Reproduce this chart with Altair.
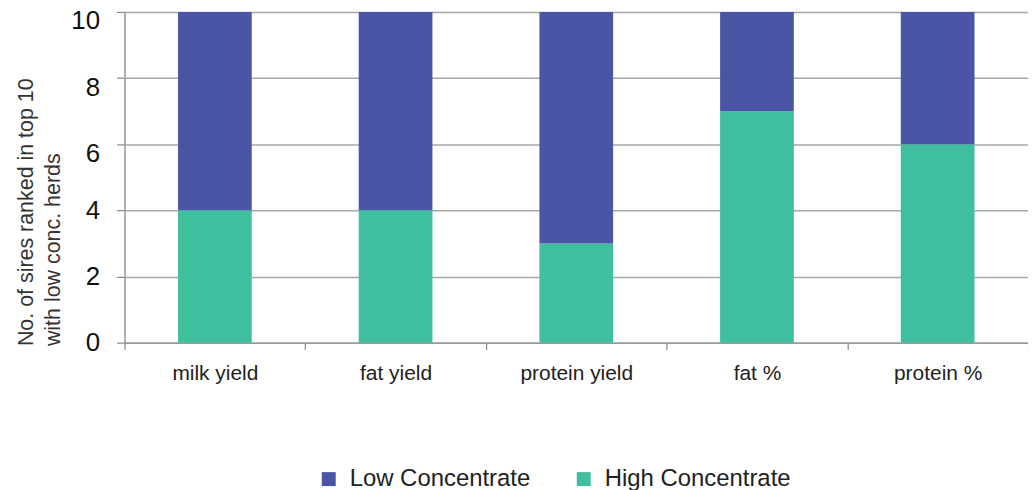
import altair as alt
import pandas as pd

categories = ["milk yield", "fat yield", "protein yield", "fat %", "protein %"]
low_conc = [6, 6, 7, 3, 4]
high_conc = [4, 4, 3, 7, 6]
series = ["Low Concentrate", "High Concentrate"]
colors = ["#4B55A5", "#40BEA0"]
y_ticks = [0, 2, 4, 6, 8, 10]

rows = []
for c, lo, hi in zip(categories, low_conc, high_conc):
    rows.append({"trait": c, "series": series[1], "value": hi, "ord": 0})
    rows.append({"trait": c, "series": series[0], "value": lo, "ord": 1})
df = pd.DataFrame(rows)

FONT = "Liberation Sans"

chart = alt.Chart(df).mark_bar(size=74).encode(
    x=alt.X("trait:N", sort=categories, title=None,
            scale=alt.Scale(paddingInner=0, paddingOuter=0),
            axis=alt.Axis(labelAngle=0, labelFontSize=21, labelColor="#222",
                          labelFont=FONT, labelPadding=13,
                          tickBand="extent", ticks=True, tickSize=7,
                          tickColor="#888", tickWidth=1.2,
                          domainColor="#999", domainWidth=1.5, grid=False)),
    y=alt.Y("value:Q", stack="zero",
            scale=alt.Scale(domain=[0, 10], nice=False),
            title=["No. of sires ranked in top 10", "with low conc. herds"],
            axis=alt.Axis(values=y_ticks, labelFontSize=26, labelColor="#111",
                          labelFont=FONT, labelPadding=17,
                          labelOffset={"condition": {"test": "datum.value >= 6", "value": 9}, "value": 0},
                          tickSize=8, tickColor="#888", tickWidth=1.2,
                          domainColor="#999", domainWidth=1.5,
                          grid=True, gridColor="#a8a8a8", gridWidth=1.5,
                          titleFont=FONT, titleFontSize=21.5, titleFontWeight="normal",
                          titleColor="#333", titleAnchor="start", titleAlign="left",
                          titleLineHeight=27, titleX=-87, titleY=335)),
    color=alt.Color("series:N", sort=series,
                    scale=alt.Scale(domain=series, range=colors),
                    legend=alt.Legend(title=None, orient="none", direction="horizontal",
                                      legendX=193, legendY=457,
                                      symbolType="square", symbolSize=196,
                                      symbolStrokeWidth=0, symbolOpacity=1,
                                      labelFont=FONT, labelFontSize=24,
                                      labelLimit=400,
                                      labelColor="#222", labelOffset=9,
                                      columnPadding=41)),
    order=alt.Order("ord:Q"),
).properties(
    width=907, height=332,
    autosize=alt.AutoSizeParams(type="none"),
    padding={"left": 117, "top": 3, "right": 0, "bottom": 147},
).configure_view(stroke=None).configure(background="white")

chart.save("out.html", embed_options={"renderer": "svg", "actions": False})
